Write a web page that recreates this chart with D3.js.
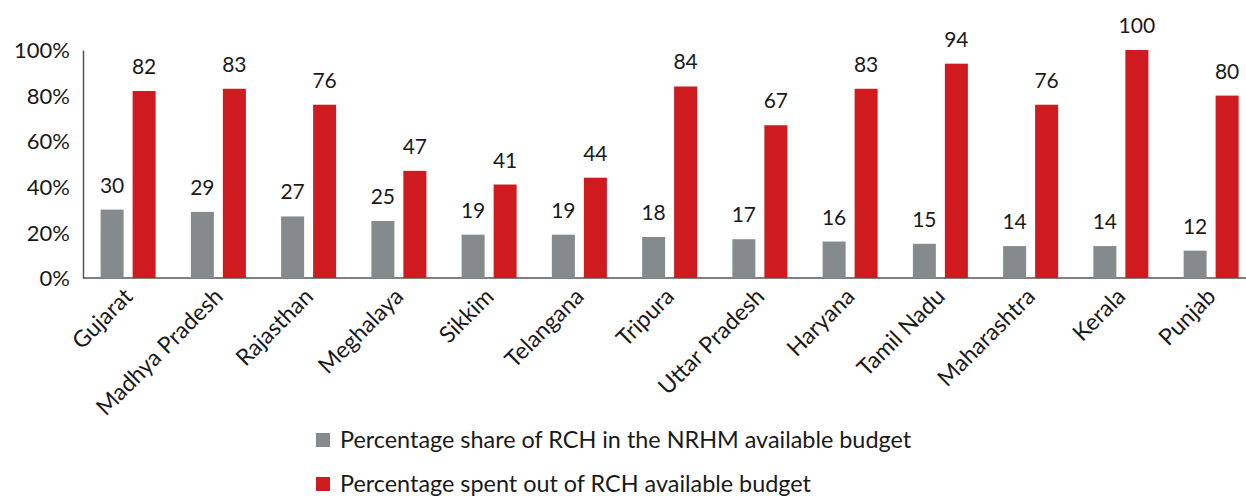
<!DOCTYPE html>
<html>
<head>
<meta charset="utf-8">
<script src="https://cdn.jsdelivr.net/npm/d3@7"></script>
<style>
  body { margin: 0; background: #fff; }
  text { font-family: Lato, "Open Sans", sans-serif; fill: #1a1a1a; }
</style>
</head>
<body>
<div id="chart"></div>
<script>
// chart values
var states = ["Gujarat", "Madhya Pradesh", "Rajasthan", "Meghalaya", "Sikkim", "Telangana",
    "Tripura", "Uttar Pradesh", "Haryana", "Tamil Nadu", "Maharashtra", "Kerala", "Punjab"];
var shareRCH = [30, 29, 27, 25, 19, 19, 18, 17, 16, 15, 14, 14, 12];
var spentRCH = [82, 83, 76, 47, 41, 44, 84, 67, 83, 94, 76, 100, 80];
var yTicks = [0, 20, 40, 60, 80, 100];
var seriesNames = ["Percentage share of RCH in the NRHM available budget",
    "Percentage spent out of RCH available budget"];
var seriesColors = ["#858b8c", "#cf1a1f"];

var width = 1246, height = 496;
var svg = d3.select("#chart").append("svg")
    .attr("width", width)
    .attr("height", height);

var x = d3.scaleBand().domain(states).range([83, 83 + 13 * 90.25]);
var y = d3.scaleLinear().domain([0, 100]).range([278, 50]);

var barW = 23, gap = 9;
function groupStart(s) {
    return x(s) + x.bandwidth() / 2 - barW - gap / 2;
}

// axes
var yAxis = svg.append("g")
    .attr("transform", "translate(83,0)")
    .call(d3.axisLeft(y).tickValues(yTicks).tickSize(0).tickPadding(13)
        .tickFormat(function (d) { return d + "%"; }));
yAxis.select(".domain").attr("stroke", "#555").attr("stroke-width", 1.5);
yAxis.selectAll("text").style("font-size", "22px").attr("dy", "0.35em");

var xAxis = svg.append("g")
    .attr("transform", "translate(0,278)")
    .call(d3.axisBottom(x).tickSize(0).tickFormat(""));
xAxis.select(".domain").attr("d", "M83,0H1246").attr("stroke", "#555").attr("stroke-width", 1.5);

// bars
var series = [shareRCH, spentRCH];
series.forEach(function (vals, i) {
    svg.append("g").selectAll("rect")
        .data(states)
        .enter()
        .append("rect")
        .attr("x", function (d) { return groupStart(d) + i * (barW + gap); })
        .attr("y", function (d, j) { return y(vals[j]); })
        .attr("width", barW)
        .attr("height", function (d, j) { return y(0) - y(vals[j]); })
        .attr("fill", seriesColors[i]);

    svg.append("g").selectAll("text")
        .data(states)
        .enter()
        .append("text")
        .attr("x", function (d) { return groupStart(d) + i * (barW + gap) + barW / 2; })
        .attr("y", function (d, j) { return y(vals[j]) - 17; })
        .style("text-anchor", "middle")
        .style("font-size", "21px")
        .text(function (d, j) { return vals[j]; });
});

// category labels
svg.append("g").selectAll("text")
    .data(states)
    .enter()
    .append("text")
    .attr("transform", function (d) {
        return "translate(" + (x(d) + x.bandwidth() / 2 + 6) + ",298) rotate(-45)";
    })
    .style("text-anchor", "end")
    .style("font-size", "23px")
    .text(function (d) { return d; });

// legend
var legend = svg.append("g");
seriesNames.forEach(function (name, i) {
    var ly = 440 + i * 44;
    legend.append("rect")
        .attr("x", 316)
        .attr("y", ly - 7)
        .attr("width", 14)
        .attr("height", 14)
        .attr("fill", seriesColors[i]);
    legend.append("text")
        .attr("x", 340)
        .attr("y", ly)
        .attr("dy", "0.35em")
        .style("font-size", "23.4px")
        .text(name);
});
</script>
</body>
</html>
